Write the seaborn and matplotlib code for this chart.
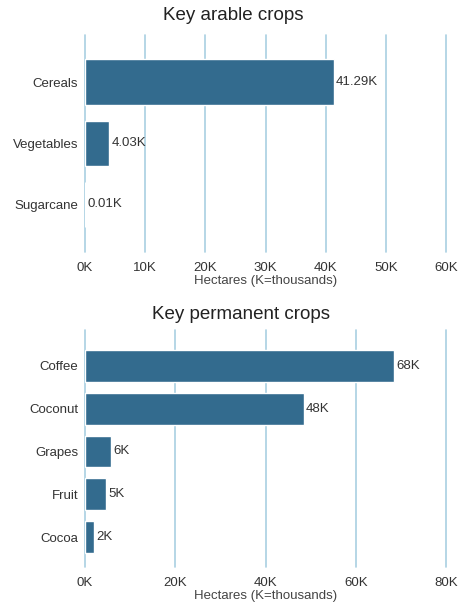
import pandas as pd
import matplotlib.pyplot as plt
import seaborn as sns
from matplotlib.ticker import FuncFormatter

arable_crops = ['Cereals', 'Vegetables', 'Sugarcane']
arable_ha = [41290, 4030, 10]

perm_crops = ['Coffee', 'Coconut', 'Grapes', 'Fruit', 'Cocoa']
perm_ha = [68500, 48400, 5800, 4600, 2000]

bar_color = '#336b8e'
grid_color = '#a9d0e2'

sns.set_theme(style='white')
plt.rcParams['font.family'] = ['Liberation Sans', 'DejaVu Sans']

fig = plt.figure(figsize=(4.61, 6.06), dpi=100)
ax1 = fig.add_axes([85 / 461, 1 - 252 / 606, 362 / 461, 217 / 606])
ax2 = fig.add_axes([85 / 461, 1 - 567 / 606, 362 / 461, 237 / 606])

df1 = pd.DataFrame({'crop': arable_crops, 'ha': arable_ha})
df2 = pd.DataFrame({'crop': perm_crops, 'ha': perm_ha})


def draw(ax, df, xmax, step, fmt):
    sns.barplot(data=df, x='ha', y='crop', color=bar_color, saturation=1,
                width=0.74, ax=ax, zorder=3)
    ax.set_xlim(0, xmax * 1.002)
    ax.set_xticks(range(0, xmax + 1, step))
    ax.xaxis.set_major_formatter(FuncFormatter(lambda v, p: f'{v / 1000:.0f}K'))
    ax.grid(axis='x', color=grid_color, linewidth=1.2, zorder=0)
    for gl in ax.get_xgridlines():
        gl.set_clip_on(False)
    ax.set_axisbelow(True)
    for s in ax.spines.values():
        s.set_visible(False)
    ax.tick_params(axis='both', length=0, labelsize=9.5, labelcolor='#333333')
    ax.tick_params(axis='x', pad=7)
    ax.tick_params(axis='y', pad=5)
    ax.set_ylabel('')
    ax.set_xlabel('Hectares (K=thousands)', fontsize=9.5, color='#444444', labelpad=1)
    for i, v in enumerate(df['ha']):
        ax.text(v + xmax * 0.006, i, fmt(v), va='center', ha='left',
                fontsize=9.5, color='#333333')


draw(ax1, df1, 60000, 10000, lambda v: f'{v / 1000:.2f}K')
ax1.set_ylim(2.78, -0.77)
draw(ax2, df2, 80000, 20000, lambda v: f'{v / 1000:.0f}K')
ax2.set_ylim(4.7, -0.84)

fig.text(233 / 461, 1 - 16 / 606, 'Key arable crops', ha='center', va='center',
         fontsize=13.5, color='#222222')
fig.text(241 / 461, 1 - 314 / 606, 'Key permanent crops', ha='center', va='center',
         fontsize=13.5, color='#222222')

fig.savefig('out.png', dpi=100)
